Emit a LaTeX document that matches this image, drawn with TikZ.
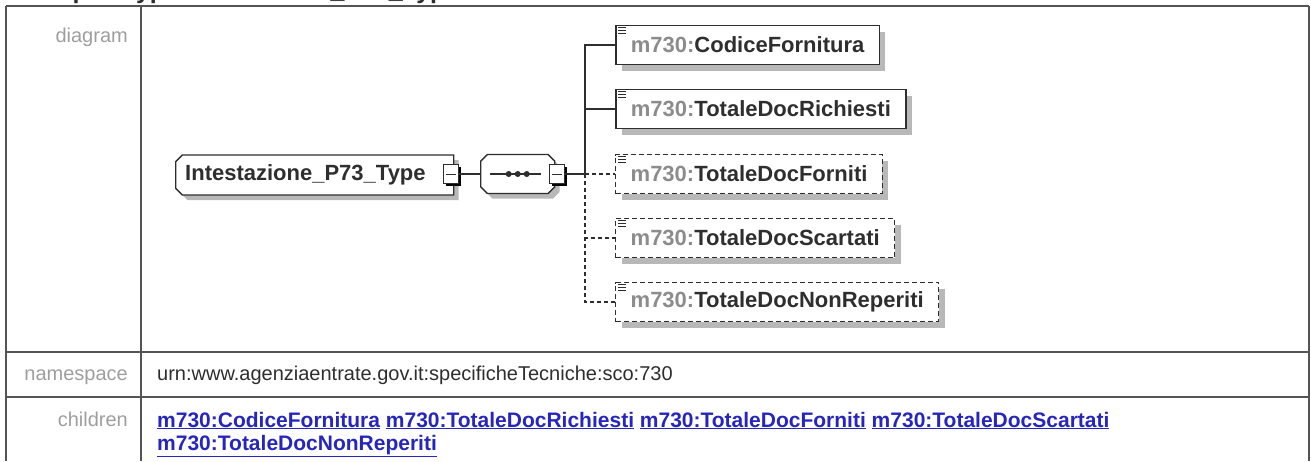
\documentclass[tikz,border=0pt]{standalone}
\usepackage{fontspec}
\setmainfont{Liberation Sans}
\usetikzlibrary{positioning,shapes.misc,shadows}

\definecolor{rule}{rgb}{0.33,0.33,0.33}
\definecolor{lblgrey}{rgb}{0.62,0.62,0.62}
\definecolor{ink}{rgb}{0.18,0.18,0.18}
\definecolor{prefix}{rgb}{0.55,0.55,0.55}
\definecolor{link}{rgb}{0.15,0.15,0.75}
\definecolor{shade}{rgb}{0.72,0.72,0.72}

\newcommand{\nsname}[1]{\textcolor{prefix}{m730:}\textcolor{ink}{#1}}

\tikzset{
  rowlabel/.style={anchor=base east, inner sep=0pt, text=lblgrey, font=\fontsize{20}{24}\selectfont},
  rowtext/.style={anchor=base west, inner sep=0pt, text=ink, font=\fontsize{20}{24}\selectfont},
  linktext/.style={anchor=base west, inner sep=0pt, text=link, font=\bfseries\fontsize{21}{23}\selectfont},
  typebox/.style={chamfered rectangle, chamfered rectangle corners={north west,south west},
    chamfered rectangle sep=7pt, draw=ink, line width=1.4pt, fill=white,
    drop shadow={shadow xshift=5pt, shadow yshift=-5pt, fill=shade, opacity=1}},
  seqbox/.style={chamfered rectangle, chamfered rectangle sep=9pt, draw=ink, line width=1.4pt,
    fill=white, drop shadow={shadow xshift=5pt, shadow yshift=-5pt, fill=shade, opacity=1}},
  minusbox/.style={rectangle, draw=ink, line width=1pt, fill=white, minimum width=15pt,
    minimum height=19pt, inner sep=0pt,
    drop shadow={shadow xshift=2.5pt, shadow yshift=-2.5pt, fill=black, opacity=1}},
  elembox/.style={anchor=west, draw=ink, line width=1.7pt, fill=white, minimum height=39pt,
    inner xsep=15pt, font=\bfseries\fontsize{22}{26}\selectfont,
    drop shadow={shadow xshift=6pt, shadow yshift=-6pt, fill=shade, opacity=1}},
  optbox/.style={elembox, line width=1.4pt, dash pattern=on 5pt off 3pt},
  conn/.style={draw=ink, line width=1.4pt},
  optconn/.style={conn, dash pattern=on 4pt off 3pt}
}

\begin{document}
\begin{tikzpicture}[x=1pt, y=-1pt]
\useasboundingbox (0,0) rectangle (1311,461);
\clip (0,0) rectangle (1311,461);

% table frame
\draw[rule, line width=2pt] (6,6) -- (1309,6);
\draw[rule, line width=1.5pt] (6,6) -- (6,461);
\draw[rule, line width=1.5pt] (1309,6) -- (1309,461);
\draw[rule, line width=1.5pt] (141,6) -- (141,461);
\draw[rule, line width=2pt] (6,352) -- (1309,352);
\draw[rule, line width=2pt] (6,397) -- (1309,397);

\node[anchor=base west, inner sep=0pt, text=ink, font=\bfseries\fontsize{25}{30}\selectfont]
  (title) at (21,-1.5) {complexType Intestazione\_P73\_Type};

\node[rowlabel] (diagramlbl) at (128,42) {diagram};
\node[rowlabel] (nslbl) at (128,380) {namespace};
\node[rowlabel] (kidslbl) at (128,426) {children};
\node[rowtext] (nsval) at (157,380) {urn:www.agenziaentrate.gov.it:specificheTecniche:sco:730};
\node[linktext] (kids1) at (157,427) {\underline{m730:CodiceFornitura} \underline{m730:TotaleDocRichiesti}
  \underline{m730:TotaleDocForniti} \underline{m730:TotaleDocScartati}};
\node[linktext] (kids2) at (157,450) {\underline{m730:TotaleDocNonReperiti}};

% diagram
\node[typebox, minimum width=278pt, minimum height=40pt, anchor=west] (intest) at (175,175) {};
\node[anchor=west, inner sep=0pt, text=ink, font=\bfseries\fontsize{22}{26}\selectfont]
  (intestname) at ([xshift=10pt]intest.west) {Intestazione\_P73\_Type};
\node[minusbox] (tgl1) at (451,174) {};
\node[seqbox, minimum width=74pt, minimum height=39pt, anchor=west] (seq) at (480,174) {};
\node[minusbox] (tgl2) at (557,174) {};
\coordinate (spine) at (585,174);

\foreach \t in {tgl1,tgl2}
  \draw[ink, line width=1pt] ([xshift=3pt]\t.west) -- ([xshift=-3pt]\t.east);
\draw[ink, line width=1.4pt] ([xshift=10pt]seq.west) -- ([xshift=-14pt]seq.east);
\foreach \dx in {-9,0,9}
  \fill[ink] ([xshift=\dx pt]seq.center) circle (3pt);

\node[elembox] (cf) at (615,45) {\nsname{CodiceFornitura}};
\node[elembox] (tr) at (615,109) {\nsname{TotaleDocRichiesti}};
\node[optbox] (tf) at (615,174) {\nsname{TotaleDocForniti}};
\node[optbox] (ts) at (615,238) {\nsname{TotaleDocScartati}};
\node[optbox] (tn) at (615,302) {\nsname{TotaleDocNonReperiti}};

\foreach \c in {cf,tr,tf,ts,tn}
  \foreach \k in {0,1,2}
    \draw[ink, line width=1pt] ([xshift=3pt, yshift={-(3+3*\k)*1pt}]\c.north west) -- ++(8,0);

% connectors
\draw[conn] (tgl1.east) -- (seq.west);
\draw[conn] (tgl2.east) -- (spine);
\draw[conn] (spine) |- (cf.west);
\draw[conn] (spine) |- (tr.west);
\draw[optconn] (spine) -- (tf.west);
\draw[optconn] (spine) |- (ts.west);
\draw[optconn] (spine) |- (tn.west);
\end{tikzpicture}
\end{document}
